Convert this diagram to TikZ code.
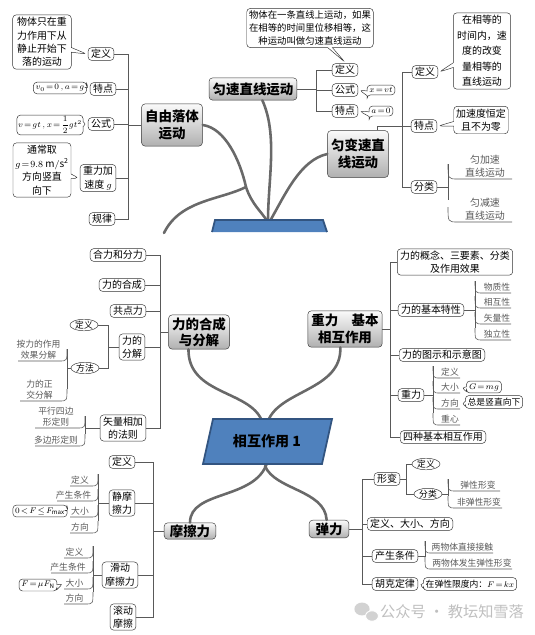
\documentclass[tikz,border=0pt]{standalone}
\usepackage{amsmath}
\usepackage{fontspec}
\setmainfont{Noto Sans CJK SC}
\usetikzlibrary{shapes.geometric, shapes.callouts, calc}
\definecolor{coreblue}{RGB}{79,129,189}
\definecolor{coreedge}{RGB}{50,84,128}
\definecolor{limb}{RGB}{105,105,105}

\begin{document}
\begin{tikzpicture}[x=0.03cm, y=-0.03cm,
  every node/.style={font=\fontsize{8.5}{11.5}\selectfont},
  hub/.style={draw=gray!45!black, rounded corners=3pt, top color=gray!4, bottom color=gray!62,
              align=center, inner xsep=3pt, inner ysep=2pt,
              font=\fontsize{11.5}{14}\selectfont\bfseries},
  sub/.style={draw=black!80, rounded corners=3pt, fill=white, align=center,
              inner xsep=2.5pt, inner ysep=1.5pt},
  oval/.style={ellipse, draw=black!80, inner xsep=1pt, inner ysep=0pt},
  note/.style={rectangle callout, draw=black!80, rounded corners=3pt, fill=white,
               align=center, inner sep=2pt, callout pointer width=4pt},
  leaf/.style={inner sep=1pt, align=center},
  tiny/.style={font=\fontsize{7.5}{9.5}\selectfont},
  limbline/.style={limb, line width=2.2pt, line cap=round},
  link/.style={black!65, line width=0.5pt},
]
\useasboundingbox (0,0) rectangle (535,635);

% ===== upper picture =====
% --- hubs
\node[hub, minimum width=50pt, minimum height=36pt] (fl) at (172,125) {自由落体\\运动};
\node[hub, minimum height=19pt] (ys) at (253,89) {匀速直线运动};
\node[hub, minimum width=50pt, minimum height=40pt] (yb) at (358,154) {匀变速直\\线运动};

% --- branches
\coordinate (fork) at (246,187);
\coordinate (cut) at (164,233);
\draw[limbline] (fl.east) .. controls (225,128) and (240,160) .. (fork)
                .. controls (252,205) and (262,212) .. (267,221);
\draw[limbline] (fork) .. controls (220,200) and (180,200) .. (cut);
\draw[limbline] ([xshift=8pt]ys.south) .. controls (278,135) and (268,180) .. (268,221);
\draw[limbline] (yb.west) .. controls (300,160) and (285,195) .. (270,221);
\fill[coreblue] (215,220) -- (323,220) -- (327,232) -- (212,232) -- cycle;
\draw[coreedge, line width=1.5pt] (212,232) -- (215,220) -- (323,220) -- (327,232);

% --- free fall
\coordinate (flj) at (128,125);
\node[sub] (flA) at (101,54) {定义};
\node[sub] (flB) at (103,89) {特点};
\node[sub] (flC) at (101,124) {公式};
\node[sub] (flD) at (98,178) {重力加\\速度 $g$};
\node[sub] (flE) at (102,219) {规律};
\draw[link] (fl.west) -- (flj);
\foreach \c in {flA,flB,flC,flD,flE} \draw[link] (\c.east) -| (flj);
\node[note, minimum width=50pt, callout absolute pointer={([xshift=-1pt]flA.west)}] (fla) at (42,42)
  {物体只在重\\力作用下从\\静止开始下\\落的运动};
\node[note, tiny, callout absolute pointer={([xshift=-1pt]flB.west)}] (flb) at (60,88) {$v_0\!=\!0\,,a\!=\!g$};
\node[note, tiny, inner sep=1pt, callout absolute pointer={([xshift=-1pt]flC.west)}] (flc) at (50,125)
  {$v\!=\!gt\,,x\!=\!\dfrac{1}{2}gt^2$};
\node[note, callout absolute pointer={([xshift=-1pt]flD.west)}] (fld) at (42,170)
  {通常取\\$g\!=\!9.8\ \mathrm{m/s^2}$\\方向竖直\\向下};

% --- uniform motion
\coordinate (ysj) at (316,89);
\node[sub] (ysA) at (345,70) {定义};
\node[sub] (ysB) at (345,90) {公式};
\node[sub] (ysC) at (345,111) {特点};
\draw[link] (ys.east) -- (ysj);
\foreach \c in {ysA,ysB,ysC} \draw[link] (\c.west) -| (ysj);
\node[note, font=\fontsize{8}{11}\selectfont, callout absolute pointer={([yshift=1pt]ysA.north)}] (ysa) at (310,28)
  {物体在一条直线上运动，如果\\在相等的时间里位移相等，这\\种运动叫做匀速直线运动};
\node[note, tiny, callout absolute pointer={([xshift=1pt]ysB.east)}] (ysb) at (381,90) {$x\!=\!vt$};
\node[note, tiny, callout absolute pointer={([xshift=1pt]ysC.east)}] (ysc) at (381,111) {$a\!=\!0$};

% --- uniformly varied motion
\coordinate (ybj) at (402,126);
\node[sub] (ybA) at (425,72) {定义};
\node[sub] (ybB) at (424,126) {特点};
\node[sub] (ybC) at (424,187) {分类};
\draw[link] ([xshift=-10pt]yb.north east) |- (ybB.west);
\foreach \c in {ybA,ybC} \draw[link] (\c.west) -| (ybj);
\node[note, minimum width=49pt, font=\fontsize{8.5}{13.3}\selectfont,
      callout absolute pointer={([xshift=1pt]ybA.east)}] (yba) at (482,51)
  {在相等的\\时间内，速\\度的改变\\量相等的\\直线运动};
\node[note, callout absolute pointer={([xshift=1pt]ybB.east)}] (ybb) at (481,120) {加速度恒定\\且不为零};
\draw[link] (ybC.east) -- (448,187);
\draw[link] (448,164) -- (448,200);
\foreach \t/\y [count=\i] in {匀加速\\直线运动/179, 匀减速\\直线运动/222}
  \draw[link] (448,\y-15) .. controls (448,\y) .. (458,\y) -- (512,\y)
    node[midway, above, leaf] (ybC\i) {\t};

% ===== lower picture =====
% --- hubs
\node[hub, minimum width=50pt, minimum height=28pt] (hc) at (199,332) {力的合成\\与分解};
\node[hub, minimum width=60pt, minimum height=31pt] (zl) at (345,329) {重力\quad 基本\\相互作用};
\node[hub, minimum width=44pt, minimum height=14pt, inner ysep=1pt] (mc) at (190,531) {摩擦力};
\node[hub, minimum width=34pt, minimum height=15pt, inner ysep=1pt] (tl) at (329,529) {弹力};

% --- branches
\draw[limbline] ([xshift=-9pt]hc.south) .. controls (188,395) and (250,390) .. (262,421);
\draw[limbline] ([xshift=-4pt]zl.south) .. controls (342,390) and (280,390) .. (268,421);
\draw[limbline] (mc.north) .. controls (190,490) and (255,500) .. (267,463);
\draw[limbline] ([xshift=-2pt]tl.north) .. controls (325,490) and (275,490) .. (265,466);

% --- core
\filldraw[fill=coreblue, draw=coreedge, line width=1.5pt]
  (213,419) -- (332,419) -- (322,464) -- (203,464) -- cycle;
\node[font=\fontsize{12}{14}\selectfont\bfseries] (core) at (267,441) {相互作用 1};

% --- composition of forces
\coordinate (hcj) at (160,332);
\node[sub] (hcA) at (118,255) {合力和分力};
\node[sub] (hcB) at (122,285) {力的合成};
\node[sub] (hcC) at (128,311) {共点力};
\node[sub] (hcD) at (132,347) {力的\\分解};
\node[sub] (hcE) at (123,428) {矢量相加\\的法则};
\draw[link] (hc.west) -- (hcj);
\foreach \c in {hcA,hcB,hcC,hcD,hcE} \draw[link] (\c.east) -| (hcj);
\coordinate (hcDj) at (108,347);
\node[oval, tiny] (hcDa) at (84,325) {定义};
\node[oval, tiny] (hcDb) at (85,368) {方法};
\draw[link] (hcD.west) -- (hcDj);
\foreach \c in {hcDa,hcDb} \draw[link] (\c.east) -| (hcDj);
\draw[link] (hcDb.west) -- (67,368);
\draw[link] (67,349) -- (67,389);
\foreach \t/\y/\e [count=\i] in {按力的作用\\效果分解/361/18, 力的正\\交分解/401/20}
  \draw[link] (67,\y-12) .. controls (67,\y) .. (59,\y) -- (\e,\y)
    node[midway, above, leaf, tiny] (hcDb\i) {\t};
\draw[link] (hcE.west) -- (85,428);
\draw[link] (85,416) -- (85,434);
\foreach \t/\y/\e [count=\i] in {平行四边\\形定则/428/35, 多边形定则/446/35}
  \draw[link] (85,\y-12) .. controls (85,\y) .. (77,\y) -- (\e,\y)
    node[midway, above, leaf, tiny] (hcE\i) {\t};

% --- gravity and basic interactions
\coordinate (zlj) at (390,329);
\node[sub] (zlA) at (455,262) {力的概念、三要素、分类\\及作用效果};
\node[sub] (zlB) at (431,310) {力的基本特性};
\node[sub] (zlC) at (442,355) {力的图示和示意图};
\node[sub] (zlD) at (411,395) {重力};
\node[sub] (zlE) at (443,437) {四种基本相互作用};
\draw[link] (zl.east) -- (zlj);
\foreach \c in {zlA,zlB,zlC,zlD,zlE} \draw[link] (\c.west) -| (zlj);
\draw[link] (zlB.east) -- (475,310);
\draw[link] (475,281) -- (475,328);
\foreach \t/\y [count=\i] in {物质性/293, 相互性/308, 矢量性/324, 独立性/340}
  \draw[link] (475,\y-12) .. controls (475,\y) .. (483,\y) -- (511,\y)
    node[midway, above, leaf, tiny] (zlB\i) {\t};
\draw[link] (zlD.east) -- (433,395);
\draw[link] (433,366) -- (433,413);
\foreach \t/\y [count=\i] in {定义/378, 大小/393, 方向/409, 重心/425}
  \draw[link] (433,\y-12) .. controls (433,\y) .. (440,\y) -- (460,\y)
    node[midway, above, leaf, tiny] (zlD\i) {\t};
\node[note, tiny, minimum width=30pt, callout absolute pointer={([xshift=1pt]zlD2.east)}] (zlDb) at (484,387) {$G\!=\!mg$};
\node[note, tiny, callout absolute pointer={([xshift=1pt]zlD3.east)}] (zlDc) at (494,402) {总是竖直向下};

% --- friction
\coordinate (mcj) at (153,531);
\node[sub] (mcA) at (122,462) {定义};
\node[sub] (mcB) at (122,503) {静摩\\擦力};
\node[sub] (mcC) at (120,575) {滑动\\摩擦力};
\node[sub] (mcD) at (123,617) {滚动\\摩擦};
\draw[link] (mc.west) -- (mcj);
\foreach \c in {mcA,mcB,mcC,mcD} \draw[link] (\c.east) -| (mcj);
\draw[link] (mcB.west) -- (98,503);
\draw[link] (98,474) -- (98,521);
\foreach \t/\y/\e [count=\i] in {定义/486/70, 产生条件/501/57, 大小/517/70, 方向/533/70}
  \draw[link] (98,\y-12) .. controls (98,\y) .. (90,\y) -- (\e,\y)
    node[midway, above, leaf, tiny] (mcB\i) {\t};
\node[note, tiny, callout absolute pointer={([xshift=-1pt]mcB3.west)}] (mcBc) at (40,511) {$0\!<\!F\!\le\! F_{\max}$};
\draw[link] (mcC.west) -- (93,575);
\draw[link] (93,546) -- (93,592);
\foreach \t/\y/\e [count=\i] in {定义/558/64, 产生条件/573/51, 大小/589/64, 方向/604/64}
  \draw[link] (93,\y-12) .. controls (93,\y) .. (85,\y) -- (\e,\y)
    node[midway, above, leaf, tiny] (mcC\i) {\t};
\node[note, tiny, minimum width=32pt, callout absolute pointer={([xshift=-1pt]mcC3.west)}] (mcCc) at (38,585) {$F\!=\!\mu F_{\mathrm N}$};

% --- elastic force
\coordinate (tlj) at (362,529);
\node[sub] (tlA) at (387,479) {形变};
\node[sub] (tlB) at (410,524) {定义、大小、方向};
\node[sub] (tlC) at (395,556) {产生条件};
\node[sub] (tlD) at (395,584) {胡克定律};
\draw[link] (tl.east) -- (tlj);
\foreach \c in {tlA,tlB,tlC,tlD} \draw[link] (\c.west) -| (tlj);
\coordinate (tlAj) at (406,479);
\node[oval, tiny] (tlAa) at (426,464) {定义};
\node[oval, tiny] (tlAb) at (428,494) {分类};
\draw[link] (tlA.east) -- (tlAj);
\foreach \c in {tlAa,tlAb} \draw[link] (\c.west) -| (tlAj);
\draw[link] (tlAb.east) -- (448,494);
\draw[link] (448,479) -- (448,496);
\foreach \t/\y/\e [count=\i] in {弹性形变/491/500, 非弹性形变/508/502}
  \draw[link] (448,\y-12) .. controls (448,\y) .. (456,\y) -- (\e,\y)
    node[midway, above, leaf, tiny] (tlAb\i) {\t};
\draw[link] (tlC.east) -- (425,556);
\draw[link] (425,541) -- (425,557);
\foreach \t/\y/\e [count=\i] in {两物体直接接触/553/493, 两物体发生弹性形变/569/512}
  \draw[link] (425,\y-12) .. controls (425,\y) .. (432,\y) -- (\e,\y)
    node[midway, above, leaf, tiny] (tlC\i) {\t};
\node[note, tiny, callout absolute pointer={([xshift=1pt]tlD.east)}] (tlDa) at (470,584) {在弹性限度内：$F\!=\!kx$};

% --- watermark
\fill[gray!35] (362,609) ellipse [x radius=6.5pt, y radius=5.5pt];
\fill[gray!35, draw=white, line width=0.8pt] (372,616) ellipse [x radius=5.5pt, y radius=4.5pt];
\node[text=gray!50, font=\fontsize{13}{15}\selectfont] (mark) at (452,612) {公众号 · 教坛知雪落};
\end{tikzpicture}
\end{document}
